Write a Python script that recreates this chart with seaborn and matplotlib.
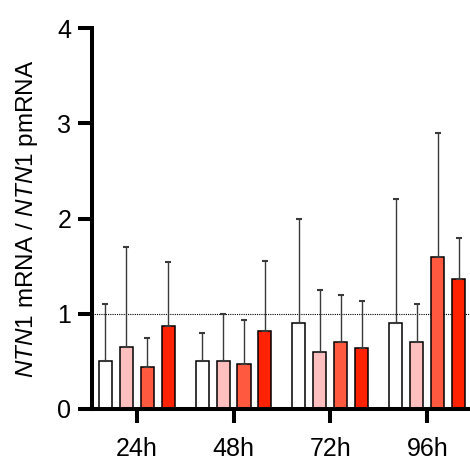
import matplotlib
matplotlib.use("Agg")
import matplotlib.pyplot as plt
import seaborn as sns
import pandas as pd
import numpy as np

times = ["24h", "48h", "72h", "96h"]
groups = ["g1", "g2", "g3", "g4"]
colors = ["#FFFFFF", "#FFBFBF", "#FF5A40", "#FF2200"]
means = {
    "g1": [0.50, 0.50, 0.90, 0.90],
    "g2": [0.65, 0.50, 0.60, 0.70],
    "g3": [0.44, 0.47, 0.70, 1.60],
    "g4": [0.87, 0.82, 0.64, 1.37],
}
upper = {
    "g1": [1.10, 0.80, 2.00, 2.20],
    "g2": [1.70, 1.00, 1.25, 1.10],
    "g3": [0.75, 0.93, 1.20, 2.90],
    "g4": [1.54, 1.55, 1.13, 1.80],
}
yticks = [0, 1, 2, 3, 4]

sns.set_style("ticks")
plt.rcParams["font.family"] = ["Liberation Sans", "DejaVu Sans"]
plt.rcParams["mathtext.fontset"] = "custom"
plt.rcParams["mathtext.it"] = "Liberation Sans:italic"
plt.rcParams["mathtext.rm"] = "Liberation Sans"

rows = []
for g in groups:
    for t, m in zip(times, means[g]):
        rows.append({"time": t, "group": g, "value": m})
df = pd.DataFrame(rows)

fig = plt.figure(figsize=(4.70, 4.67), dpi=100)
ax = fig.add_axes([92 / 470, 58 / 467, 378 / 470, 381 / 467])

sns.barplot(data=df, x="time", y="value", hue="group", order=times,
            hue_order=groups, palette=colors, errorbar=None, width=0.866,
            gap=0.38, edgecolor="black", linewidth=1.1, legend=False, ax=ax,
            saturation=1)

for g, cont in zip(groups, ax.containers):
    xs = [b.get_x() + b.get_width() / 2 for b in cont]
    hs = [b.get_height() for b in cont]
    err = np.array(upper[g]) - np.array(hs)
    ax.errorbar(xs, hs, yerr=[np.zeros_like(err), err], fmt="none",
                ecolor="#3a3a3a", elinewidth=1.0, capsize=2.5, capthick=1.5,
                zorder=1)

ax.axhline(1, color="black", linestyle=(0, (1, 1)), linewidth=0.8, zorder=0)

ax.set_xlim(-0.46, 3.44)
ax.set_ylim(0, 4)
ax.set_yticks(yticks)
ax.set_yticklabels([str(v) for v in yticks])
ax.set_xlabel("")
ax.set_ylabel(r"$\mathit{NTN1}$ mRNA / $\mathit{NTN1}$ pmRNA", fontsize=17.5,
              labelpad=12, color="black")
sns.despine(ax=ax)
for s in ["left", "bottom"]:
    ax.spines[s].set_linewidth(2.9)
    ax.spines[s].set_color("black")
ax.tick_params(axis="both", width=2.9, length=10, labelsize=18,
               color="black", labelcolor="black")
ax.tick_params(axis="x", pad=10)
ax.tick_params(axis="y", pad=5)

fig.savefig("out.png", dpi=100)
